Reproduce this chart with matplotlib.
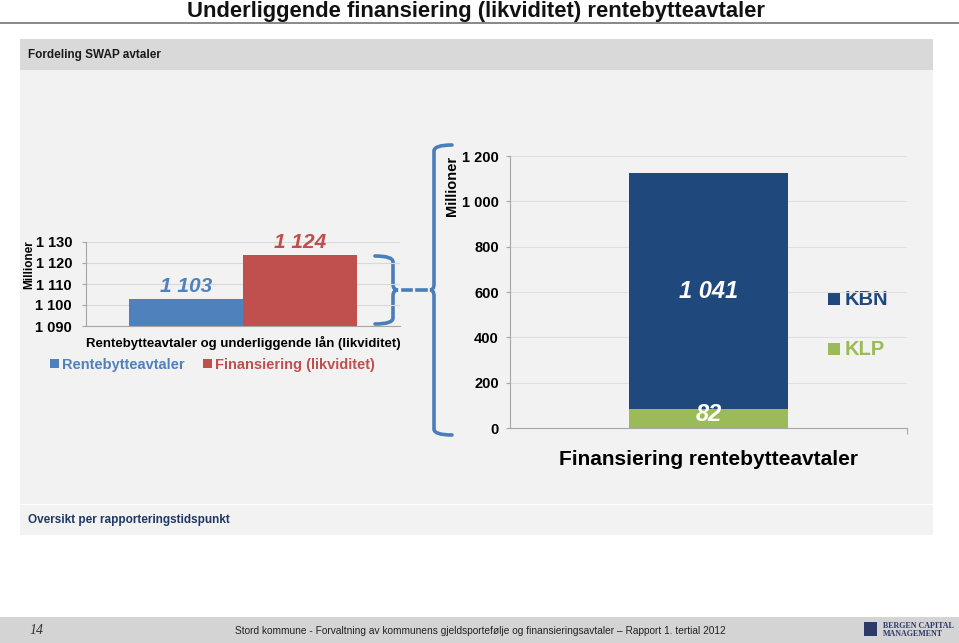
import numpy as np
import matplotlib
matplotlib.use("Agg")
import matplotlib.pyplot as plt
from matplotlib.path import Path
from matplotlib.patches import PathPatch, Rectangle
from matplotlib.ticker import FuncFormatter

# =============================
# DATA
# =============================
left_series = ["Rentebytteavtaler", "Finansiering (likviditet)"]
left_values = [1103, 1124]
left_category = "Rentebytteavtaler og underliggende lån (likviditet)"
left_ticks = [1090, 1100, 1110, 1120, 1130]

right_series = ["KLP", "KBN"]          # stacked bottom -> top
right_values = [82, 1041]
right_category = "Finansiering rentebytteavtaler"
right_ticks = [0, 200, 400, 600, 800, 1000, 1200]

# =============================
# STYLE
# =============================
W, H = 959, 643
left_colors = ["#4f81bd", "#c0504d"]
right_colors = ["#9bbb59", "#1f497d"]
right_label_lift = [3, 0]   # points, label nudge per segment
brace_col = "#4a7ebb"
panel_col = "#f2f2f2"
narrow = ["Liberation Sans Narrow", "Liberation Sans", "DejaVu Sans"]
serif = ["Liberation Serif", "DejaVu Serif"]
plt.rcParams["font.family"] = ["Liberation Sans", "DejaVu Sans"]


def px(x0, y0, x1, y1):
    return [x0 / W, 1 - y1 / H, (x1 - x0) / W, (y1 - y0) / H]


def space_fmt(v, pos=None):
    return f"{int(v):,}".replace(",", " ")


fig = plt.figure(figsize=(W / 100, H / 100), dpi=100)

# background canvas in pixel coordinates
bg = fig.add_axes([0, 0, 1, 1], zorder=-5)
bg.set_xlim(0, W)
bg.set_ylim(H, 0)
bg.axis("off")

bg.text(476, 11.5, "Underliggende finansiering (likviditet) rentebytteavtaler",
        ha="center", va="center", fontsize=15.8, fontweight="bold", family=narrow, color="#111111")
bg.plot([0, W], [23, 23], color="#7f7f7f", lw=1.3)

bg.add_patch(Rectangle((20, 39), 913, 31, color="#d9d9d9", lw=0))
bg.text(28, 55, "Fordeling SWAP avtaler", ha="left", va="center", fontsize=8.5,
        fontweight="bold", family=narrow, color="#1a1a1a")
bg.add_patch(Rectangle((20, 70), 913, 434, color=panel_col, lw=0))
bg.add_patch(Rectangle((20, 505), 913, 30, color=panel_col, lw=0))
bg.text(28, 520, "Oversikt per rapporteringstidspunkt", ha="left", va="center", fontsize=8.5,
        fontweight="bold", family=narrow, color="#1f3864")

# footer
bg.add_patch(Rectangle((0, 617), W, 26, color="#d4d4d4", lw=0))
bg.text(30, 631, "14", ha="left", va="center", fontsize=10, style="italic",
        family=serif, color="#333333")
bg.text(480, 631, "Stord kommune - Forvaltning av kommunens gjeldsportefølje og finansieringsavtaler – Rapport 1. tertial 2012",
        ha="center", va="center", fontsize=7.3, family=narrow, color="#222222")
bg.add_patch(Rectangle((864, 622), 13, 14, color="#2b3a67", lw=0))
bg.text(883, 625.5, "BERGEN CAPITAL", ha="left", va="center", fontsize=5.8, fontweight="bold",
        family=serif, color="#2b3a67")
bg.text(883, 633.5, "MANAGEMENT", ha="left", va="center", fontsize=5.8, fontweight="bold",
        family=serif, color="#2b3a67")


# braces
def brace(x_end, x_spine, x_tip, y_top, y_bot, r=6):
    y_mid = (y_top + y_bot) / 2
    verts = [(x_end, y_top), (x_spine, y_top), (x_spine, y_top + r),
             (x_spine, y_mid - r), (x_spine, y_mid), (x_tip, y_mid),
             (x_spine, y_mid), (x_spine, y_mid + r),
             (x_spine, y_bot - r), (x_spine, y_bot), (x_end, y_bot)]
    codes = [Path.MOVETO, Path.CURVE3, Path.CURVE3,
             Path.LINETO, Path.CURVE3, Path.CURVE3,
             Path.CURVE3, Path.CURVE3,
             Path.LINETO, Path.CURVE3, Path.CURVE3]
    bg.add_patch(PathPatch(Path(verts, codes), fc="none", ec=brace_col, lw=2.6, capstyle="round"))


brace(375, 393, 398, 256, 324)
brace(452, 434, 430, 145, 435)
bg.plot([403, 411], [290, 290], color=brace_col, lw=2.6)
bg.plot([417, 426], [290, 290], color=brace_col, lw=2.6)

# =============================
# LEFT CHART
# =============================
ax1 = fig.add_axes(px(86, 242, 400, 326))
ax1.set_facecolor("none")
x_pos = np.array([-0.363, 0.363])
ax1.bar(x_pos, left_values, width=0.726, color=left_colors, zorder=2)
ax1.set_xlim(-1, 1)
ax1.set_ylim(left_ticks[0], left_ticks[-1])
ax1.set_yticks(left_ticks)
ax1.yaxis.set_major_formatter(FuncFormatter(space_fmt))
ax1.set_xticks([])
ax1.grid(axis="y", color="#d9d9d9", lw=0.8, zorder=0)
for s in ["top", "right"]:
    ax1.spines[s].set_visible(False)
for s in ["left", "bottom"]:
    ax1.spines[s].set_color("#a6a6a6")
ax1.tick_params(axis="y", length=3, color="#a6a6a6", labelsize=10.5, pad=7)
for lab in ax1.get_yticklabels():
    lab.set_fontweight("bold")
for x, v, c in zip(x_pos, left_values, left_colors):
    ax1.text(x, v + 1.2, space_fmt(v), ha="center", va="bottom", fontsize=15,
             fontweight="bold", style="italic", color=c, clip_on=False)
ax1.set_xlabel(left_category, fontsize=9.5, fontweight="bold", labelpad=7)
bg.text(29, 265, "Millioner", rotation=90, ha="center", va="center",
        fontsize=8.5, fontweight="bold")

# left legend
for (x0, name, c) in [(50, left_series[0], left_colors[0]), (203, left_series[1], left_colors[1])]:
    bg.add_patch(Rectangle((x0, 359), 9, 9, color=c, lw=0))
    bg.text(x0 + 12, 364.5, name, ha="left", va="center", fontsize=10.5,
            fontweight="bold", color=c)

# =============================
# RIGHT CHART
# =============================
ax2 = fig.add_axes(px(510, 156, 907, 428))
ax2.set_facecolor("none")
bottom = 0
for name, v, c, lift in zip(right_series, right_values, right_colors, right_label_lift):
    ax2.bar([0], [v], bottom=bottom, width=0.4, color=c, zorder=2)
    ax2.annotate(space_fmt(v), (0, bottom + v / 2), xytext=(0, lift), textcoords="offset points",
                 ha="center", va="center", fontsize=17, fontweight="bold", style="italic",
                 color="white", zorder=3)
    bottom += v
ax2.set_xlim(-0.5, 0.5)
ax2.set_ylim(right_ticks[0], right_ticks[-1])
ax2.set_yticks(right_ticks)
ax2.yaxis.set_major_formatter(FuncFormatter(space_fmt))
ax2.set_xticks([0.5])
ax2.set_xticklabels([""])
ax2.grid(axis="y", color="#e0e0e0", lw=0.8, zorder=0)
for s in ["top", "right"]:
    ax2.spines[s].set_visible(False)
for s in ["left", "bottom"]:
    ax2.spines[s].set_color("#a6a6a6")
ax2.tick_params(axis="y", length=3, color="#a6a6a6", labelsize=10.5, pad=5)
ax2.tick_params(axis="x", length=4, color="#a6a6a6")
for lab in ax2.get_yticklabels():
    lab.set_fontweight("bold")
ax2.set_xlabel(right_category, fontsize=15, fontweight="bold", labelpad=8)
bg.text(452, 186, "Millioner", rotation=90, ha="center", va="center",
        fontsize=10.5, fontweight="bold")

# right legend
for y, name, c in [(299, right_series[1], right_colors[1]), (349, right_series[0], right_colors[0])]:
    bg.add_patch(Rectangle((828, y - 6), 12, 12, color=c, lw=0))
    bg.text(845, y + 0.5, name, ha="left", va="center", fontsize=14.5, fontweight="bold", color=c)

fig.savefig("out.png", dpi=100)
